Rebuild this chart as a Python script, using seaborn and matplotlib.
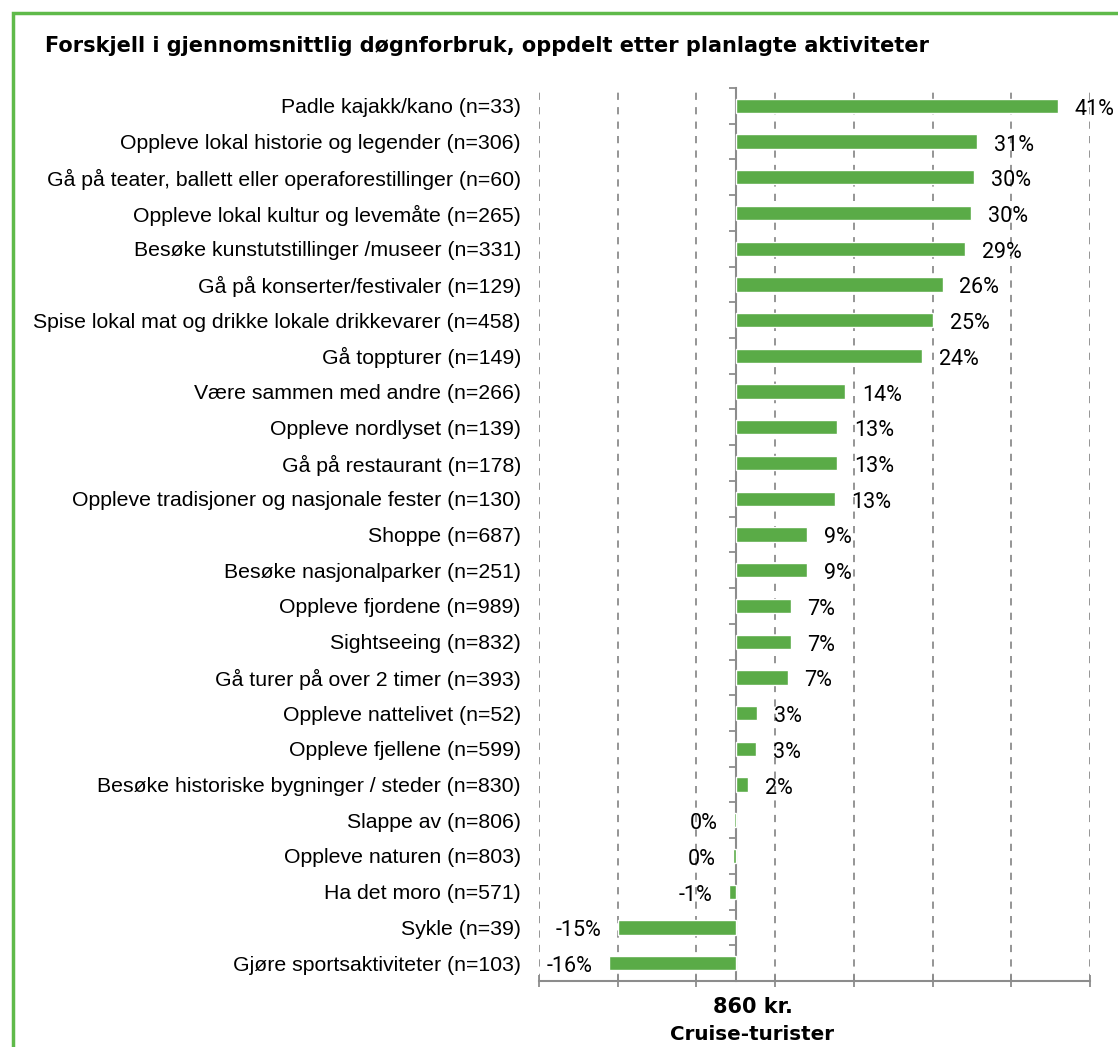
import numpy as np
import pandas as pd
import matplotlib
matplotlib.use("Agg")
import matplotlib.pyplot as plt
import matplotlib.patches as patches
import matplotlib.transforms as mtransforms
import seaborn as sns

# data (top to bottom)
activities = [
    "Padle kajakk/kano (n=33)",
    "Oppleve lokal historie og legender (n=306)",
    "Gå på teater, ballett eller operaforestillinger (n=60)",
    "Oppleve lokal kultur og levemåte (n=265)",
    "Besøke kunstutstillinger /museer (n=331)",
    "Gå på konserter/festivaler (n=129)",
    "Spise lokal mat og drikke lokale drikkevarer (n=458)",
    "Gå toppturer (n=149)",
    "Være sammen med andre (n=266)",
    "Oppleve nordlyset (n=139)",
    "Gå på restaurant (n=178)",
    "Oppleve tradisjoner og nasjonale fester (n=130)",
    "Shoppe (n=687)",
    "Besøke nasjonalparker (n=251)",
    "Oppleve fjordene (n=989)",
    "Sightseeing (n=832)",
    "Gå turer på over 2 timer (n=393)",
    "Oppleve nattelivet (n=52)",
    "Oppleve fjellene (n=599)",
    "Besøke historiske bygninger / steder (n=830)",
    "Slappe av (n=806)",
    "Oppleve naturen (n=803)",
    "Ha det moro (n=571)",
    "Sykle (n=39)",
    "Gjøre sportsaktiviteter (n=103)",
]
diff_pct = [40.9, 30.7, 30.3, 29.9, 29.1, 26.3, 25.1, 23.7, 13.9, 12.9,
            12.9, 12.6, 9.1, 9.1, 7.0, 7.0, 6.6, 2.7, 2.6, 1.6,
            -0.2, -0.4, -0.9, -15.0, -16.1]
value_labels = ["41%", "31%", "30%", "30%", "29%", "26%", "25%", "24%", "14%", "13%",
                "13%", "13%", "9%", "9%", "7%", "7%", "7%", "3%", "3%", "2%",
                "0%", "0%", "-1%", "-15%", "-16%"]
x_ticks = [-25, -15, -5, 5, 15, 25, 35, 45]
base_amount = "860 kr."
base_group = "Cruise-turister"
title = "Forskjell i gjennomsnittlig døgnforbruk, oppdelt etter planlagte aktiviteter"

df = pd.DataFrame({"Aktivitet": activities, "Forskjell": diff_pct})

bar_green = "#5aab47"
frame_green = "#5fba4a"
axis_grey = "#8c8c8c"

sns.set_theme(style="white")
plt.rcParams["font.family"] = ["Liberation Sans", "DejaVu Sans"]

W, H = 1118, 1047
fig = plt.figure(figsize=(W / 100, H / 100), dpi=100)
ax = fig.add_axes([539 / W, 1 - 981 / H, (1090 - 539) / W, (981 - 88) / H])

sns.barplot(data=df, x="Forskjell", y="Aktivitet", orient="h", color=bar_green,
            width=0.4, saturation=1, ax=ax)

ax.set_xlim(-25, 45)
ax.set_xticks(x_ticks)
ax.set_xticklabels([])
ax.set_xlabel("")
ax.set_ylabel("")
ax.grid(axis="x", color=axis_grey, linestyle=(0, (4, 4)), linewidth=1.3)
ax.set_axisbelow(True)

for side in ["top", "right", "left"]:
    ax.spines[side].set_visible(False)
ax.spines["bottom"].set_color(axis_grey)
ax.spines["bottom"].set_linewidth(1.5)
ax.tick_params(axis="x", direction="inout", length=9, width=1.3, color=axis_grey, bottom=True)
ax.tick_params(axis="y", length=0, pad=13, labelsize=15.3, labelcolor="black")

# the zero axis with small ticks between the categories
zero_pos = (0 - (-25)) / 70
sec = ax.secondary_yaxis(zero_pos)
sec.set_yticks(np.arange(-0.5, len(activities), 1))
sec.set_yticklabels([])
sec.spines["left"].set_color(axis_grey)
sec.spines["left"].set_linewidth(1.5)
sec.tick_params(axis="y", direction="out", length=5, width=1.3, color=axis_grey, left=True)

# value labels
for i, (v, lab) in enumerate(zip(diff_pct, value_labels)):
    if v >= 0:
        ax.annotate(lab, (v, i), xytext=(12, -2.5), textcoords="offset points",
                    ha="left", va="center", fontsize=15.5, family="Roboto",
                    color="black", annotation_clip=False)
    else:
        ax.annotate(lab, (v, i), xytext=(-12, -2.5), textcoords="offset points",
                    ha="right", va="center", fontsize=15.5, family="Roboto",
                    color="black", annotation_clip=False)

# base label under the zero axis (sits a little right of the zero line)
trans = mtransforms.blended_transform_factory(ax.transData, ax.transAxes)
ax.annotate(base_amount, (0, -0.029), xycoords=trans, xytext=(12, 0),
            textcoords="offset points", ha="center", va="center",
            fontsize=15, fontweight="bold", family="DejaVu Sans", color="black",
            annotation_clip=False)
ax.annotate(base_group, (0, -0.0595), xycoords=trans, xytext=(12, 0),
            textcoords="offset points", ha="center", va="center",
            fontsize=14.3, fontweight="bold", family="DejaVu Sans", color="black",
            annotation_clip=False)

fig.text(45 / W, 1 - 46 / H, title, ha="left", va="center",
         fontsize=15, fontweight="bold", family="DejaVu Sans", color="black")

# green frame around the chart (cut off at right and bottom)
frame = patches.Rectangle((13 / W, -0.05), 1.2, 1 - 13 / H + 0.05, transform=fig.transFigure,
                          fill=False, edgecolor=frame_green, linewidth=2.5, clip_on=False)
fig.patches.append(frame)

fig.savefig("out.png", dpi=100)
